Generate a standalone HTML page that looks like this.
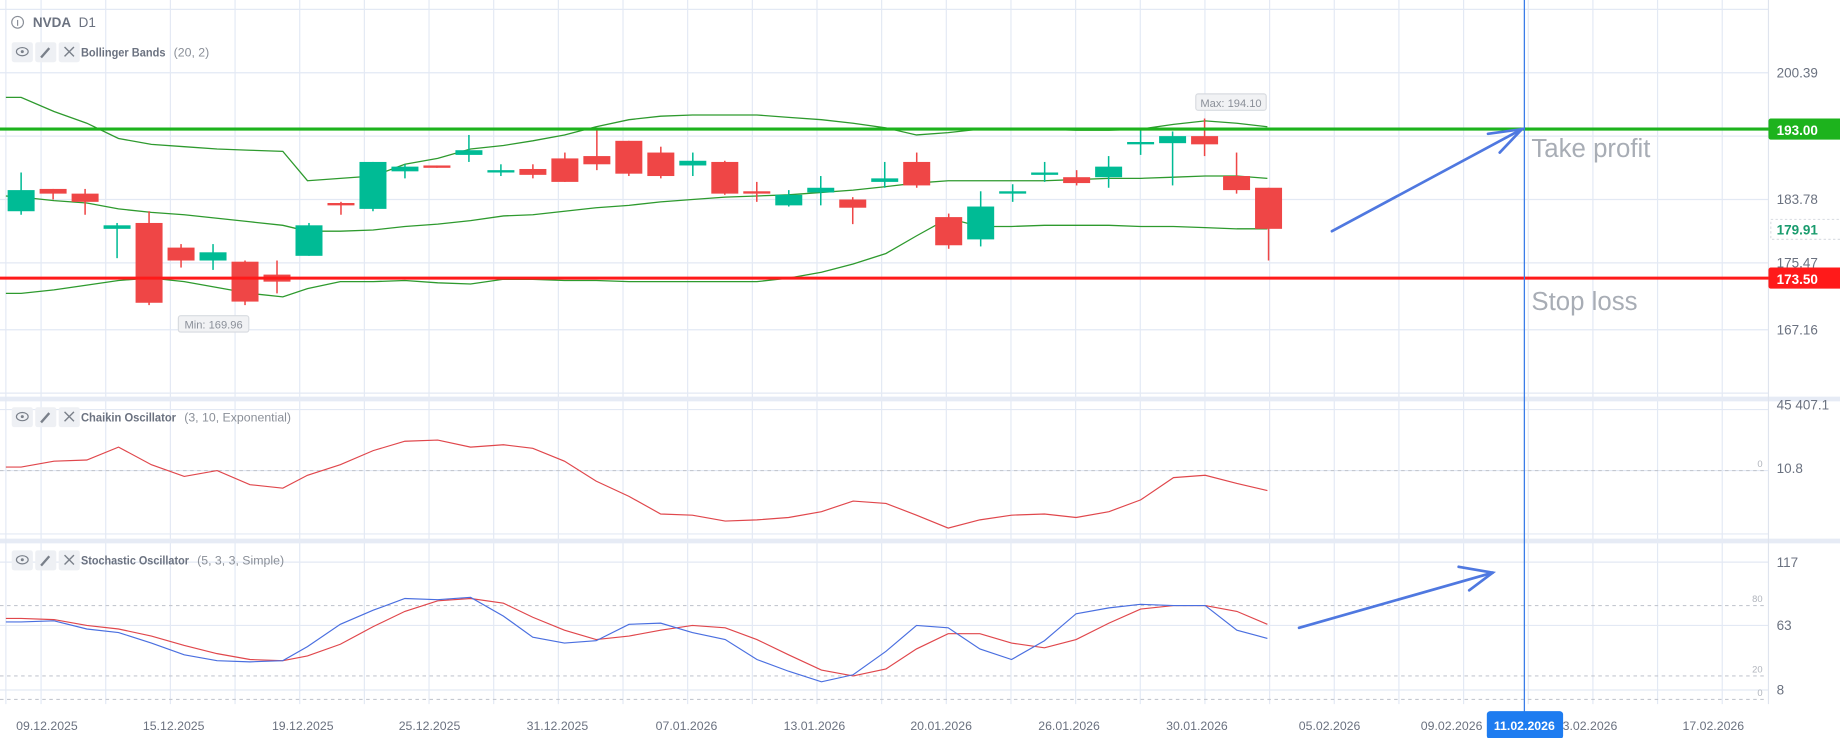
<!DOCTYPE html>
<html><head><meta charset="utf-8"><style>
body{margin:0;background:#fff;width:1840px;height:738px;overflow:hidden;font-family:"Liberation Sans",sans-serif}
svg{display:block}
</style></head><body>
<svg id="s" width="1840" height="738" xmlns="http://www.w3.org/2000/svg" font-family="Liberation Sans, sans-serif">
<rect width="1840" height="738" fill="#fff"/>
<g transform="scale(1.1735)">
<g id="grid" stroke="#e3e9f4" stroke-width="1"></g>
<rect x="0" y="338" width="1600" height="4" fill="#e6ebf5"/>
<rect x="0" y="459" width="1600" height="4" fill="#e6ebf5"/>
<line x1="1507" y1="0" x2="1507" y2="600" stroke="#dfe4ee"/>
<line x1="5" y1="0" x2="5" y2="600" stroke="#e3e9f4"/>
<g stroke="#c4c8d0" stroke-dasharray="3,3">
<line x1="0" y1="401" x2="1505" y2="401"/>
<line x1="0" y1="516" x2="1505" y2="516"/>
<line x1="0" y1="576" x2="1505" y2="576"/>
<line x1="0" y1="596" x2="1505" y2="596"/>
</g>
<g font-size="8" fill="#b0b4bc" text-anchor="end">
<text x="1502" y="398">0</text><text x="1502" y="513">80</text><text x="1502" y="573">20</text><text x="1502" y="593">0</text>
</g>
<g id="bb" fill="none" stroke="#2e9a2e" stroke-width="1.1"></g>
<g id="candles"></g>
<line x1="0" y1="110" x2="1507" y2="110" stroke="#1db31d" stroke-width="2.6"/>
<line x1="0" y1="237" x2="1507" y2="237" stroke="#ff1a1a" stroke-width="2.6"/>
<g id="osc" fill="none" stroke-width="1"></g>
<g>
<rect x="1019" y="80" width="60" height="14" rx="2" fill="#f1f2f4" stroke="#d8dbe0"/>
<text x="1049" y="91" font-size="9.5" fill="#8a8f98" text-anchor="middle">Max: 194.10</text>
<rect x="152" y="269" width="60" height="14" rx="2" fill="#f1f2f4" stroke="#d8dbe0"/>
<text x="182" y="280" font-size="9.5" fill="#8a8f98" text-anchor="middle">Min: 169.96</text>
</g>
<circle cx="15" cy="19" r="5" fill="none" stroke="#8a8f98"/><line x1="15" y1="17" x2="15" y2="22" stroke="#8a8f98"/>
<text x="28" y="23" font-size="11.5" font-weight="bold" fill="#6b7280">NVDA</text><text x="67" y="23" font-size="11.5" fill="#6b7280">D1</text>
<g id="hdr"></g>
<g stroke="#4f78e0" stroke-width="2.3" fill="none" stroke-linecap="round">
<line x1="1135" y1="197" x2="1297" y2="110"/><polyline points="1268,114 1297,110 1278,130"/>
<line x1="1107" y1="535" x2="1272" y2="488"/><polyline points="1243,483 1272,488 1252,503"/>
</g>
<line x1="1299" y1="0" x2="1299" y2="630" stroke="#3b7de8" stroke-width="1.1"/>
<text x="1305" y="134" font-size="22" fill="#a8adb5">Take profit</text>
<text x="1305" y="264" font-size="22" fill="#a8adb5">Stop loss</text>
<g font-size="11.5" fill="#6b7280">
<text x="1514" y="66">200.39</text><text x="1514" y="174">183.78</text><text x="1514" y="228">175.47</text><text x="1514" y="285">167.16</text>
<text x="1514" y="349">45 407.1</text><text x="1514" y="403">10.8</text>
<text x="1514" y="483">117</text><text x="1514" y="537">63</text><text x="1514" y="592">8</text>
</g>
<rect x="1509" y="187" width="331" height="17" fill="#fff" stroke="#dcdfe4" stroke-dasharray="2,2"/>
<text x="1514" y="200" font-size="11.5" font-weight="bold" fill="#1a9c6e">179.91</text>
<rect x="1507" y="101" width="333" height="18" rx="2" fill="#1db31d"/>
<text x="1514" y="115" font-size="11.5" font-weight="bold" fill="#fff">193.00</text>
<rect x="1507" y="228" width="333" height="18" rx="2" fill="#ff1a1a"/>
<text x="1514" y="242" font-size="11.5" font-weight="bold" fill="#fff">173.50</text>
<g font-size="10.5" fill="#6b7280" text-anchor="middle">
<text x="40" y="622">09.12.2025</text><text x="148" y="622">15.12.2025</text><text x="258" y="622">19.12.2025</text>
<text x="366" y="622">25.12.2025</text><text x="475" y="622">31.12.2025</text><text x="585" y="622">07.01.2026</text>
<text x="694" y="622">13.01.2026</text><text x="802" y="622">20.01.2026</text><text x="911" y="622">26.01.2026</text>
<text x="1020" y="622">30.01.2026</text><text x="1133" y="622">05.02.2026</text><text x="1237" y="622">09.02.2026</text>
<text x="1352" y="622">13.02.2026</text><text x="1460" y="622">17.02.2026</text>
</g>
<rect x="1267" y="606" width="65" height="24" rx="3" fill="#1e7cf0"/>
<text x="1299" y="622" font-size="10.5" font-weight="bold" fill="#fff" text-anchor="middle">11.02.2026</text>
</g>
</svg>
<script>
const NS="http://www.w3.org/2000/svg";
function el(p,t,a){const e=document.createElementNS(NS,t);for(const k in a)e.setAttribute(k,a[k]);p.appendChild(e);return e;}
const g=document.getElementById('grid');
for(let x=35;x<1507;x+=55.1){el(g,'line',{x1:x,y1:0,x2:x,y2:600});}
[8,62,116,170,224,281,335,349,401,455,479,533,588].forEach(y=>el(g,'line',{x1:0,y1:y,x2:1507,y2:y}));
const C=[[162,180,147,183,'g'],[161,165,161,170,'r'],[165,172,161,183,'r'],[192,195,190,220,'g'],[190,258,180,260,'r'],[211,222,208,228,'r'],[215,222,208,230,'g'],[223,257,222,260,'r'],[234,240,222,250,'r'],[192,218,190,218,'g'],[173,175,172,183,'r'],[138,178,138,180,'g'],[142,146,140,152,'g'],[141,143,141,143,'r'],[128,132,115,138,'g'],[145,147,140,150,'g'],[144,149,140,152,'r'],[135,155,130,155,'r'],[133,140,111,145,'r'],[120,148,120,150,'r'],[130,150,125,152,'r'],[137,141,130,150,'g'],[138,165,137,166,'r'],[163,165,155,172,'r'],[166,175,162,176,'g'],[160,164,150,175,'g'],[170,177,168,191,'r'],[152,155,138,160,'g'],[138,158,130,160,'r'],[185,209,182,212,'r'],[176,204,163,210,'g'],[163,165,157,172,'g'],[147,149,138,155,'g'],[151,156,145,158,'r'],[142,151,133,160,'g'],[121,123,110,132,'g'],[116,122,112,158,'g'],[116,123,101,133,'r'],[150,162,130,165,'r'],[160,195,160,222,'r']];
const cg=document.getElementById('candles');
const sp=(1081-18)/(C.length-1);
C.forEach((c,i)=>{const x=18+sp*i;const col=c[4]=='g'?'#00bb95':'#ef4646';
el(cg,'line',{x1:x,y1:c[2],x2:x,y2:c[3],stroke:col,'stroke-width':1.3});
el(cg,'rect',{x:x-11.5,y:c[0],width:23,height:Math.max(2,c[1]-c[0]),fill:col});});
const XS=[5,18,46,74,101,129,157,185,213,241,262,290,318,345,373,401,429,454,481,508,536,563,590,618,645,672,700,727,755,781,808,835,862,890,917,945,972,1000,1027,1054,1080];
function pl(parent,ys,col){el(parent,'polyline',{points:ys.map((y,i)=>XS[i]+','+y).join(' '),stroke:col});}
const bb=document.getElementById('bb');
pl(bb,[83,83,95,105,118,123,125,127,128,129,154,152,150,140,135,127,124,120,115,108,102,99,98,98,98,100,102,105,109,115,113,110,110,110,111,111,110,106,103,105,108],'#2e9a2e');
pl(bb,[167,168,171,173,178,181,183,186,189,192,197,197,196,193,191,188,184,183,180,177,175,172,170,168,167,166,164,162,159,156,154,154,154,154,153,152,152,151,150,150,152],'#2e9a2e');
pl(bb,[250,250,247,243,239,237,240,245,250,253,246,240,240,239,241,242,238,238,239,239,240,240,240,240,240,237,232,225,216,201,186,193,193,192,192,192,193,193,194,195,195],'#2e9a2e');
const o=document.getElementById('osc');
pl(o,[398,398,393,392,381,396,406,401,413,416,405,396,384,376,375,381,379,382,393,410,423,438,439,444,443,441,436,427,429,439,450,443,439,438,441,436,426,407,405,412,418],'#e0474c');
pl(o,[527,527,528,533,536,542,550,557,562,563,559,549,534,521,512,510,514,526,537,545,542,537,533,535,545,558,571,576,570,553,540,540,548,552,545,531,519,516,516,521,532],'#e0474c');
pl(o,[530,530,529,536,539,548,558,563,564,563,551,532,520,510,511,509,525,543,548,546,532,531,539,545,562,572,581,575,555,533,535,553,562,546,523,518,515,516,516,537,544],'#4a6fe0');
const h=document.getElementById('hdr');
[[44,'Bollinger Bands','(20, 2)',72],[355,'Chaikin Oscillator','(3, 10, Exponential)',81],[477,'Stochastic Oscillator','(5, 3, 3, Simple)',92]].forEach(r=>{
const y=r[0];
[10,30,50].forEach(x=>el(h,'rect',{x:x,y:y-8,width:18,height:17,rx:2,fill:'#eef0f4'}));
el(h,'ellipse',{cx:19,cy:y,rx:5,ry:3.5,fill:'none',stroke:'#7a808a'});el(h,'circle',{cx:19,cy:y,r:1.3,fill:'#7a808a'});
el(h,'line',{x1:35,y1:y+5,x2:42,y2:y-3,stroke:'#7a808a','stroke-width':2});
el(h,'line',{x1:55,y1:y-4,x2:63,y2:y+4,stroke:'#7a808a','stroke-width':1.2});el(h,'line',{x1:63,y1:y-4,x2:55,y2:y+4,stroke:'#7a808a','stroke-width':1.2});
let t=el(h,'text',{x:69,y:y+4,'font-size':10.5,'font-weight':'bold',fill:'#6b7280',textLength:r[3],lengthAdjust:'spacingAndGlyphs'});t.textContent=r[1];
let t2=el(h,'text',{x:69+r[3]+7,y:y+4,'font-size':10.5,fill:'#8a8f98'});t2.textContent=r[2];
});
</script>
</body></html>
